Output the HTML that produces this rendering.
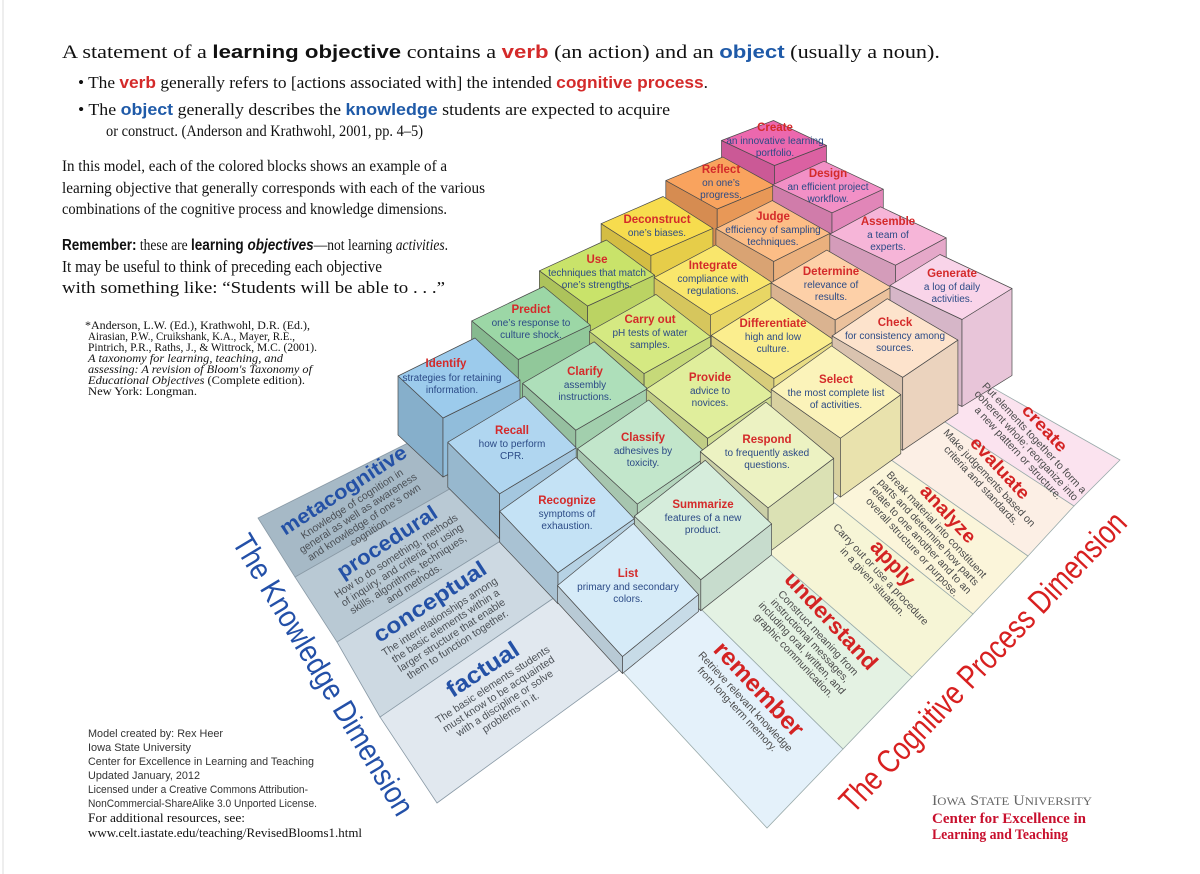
<!DOCTYPE html>
<html><head><meta charset="utf-8"><style>
html,body{margin:0;padding:0;background:#fff;}
svg{display:block;}
.ser{font-family:"Liberation Serif",serif;fill:#111;}
.sb{font-family:"Liberation Sans",sans-serif;font-weight:bold;}
.bt{font-family:"Liberation Sans Narrow","Liberation Sans",sans-serif;font-size:11.5px;font-weight:bold;fill:#d42a2a;text-anchor:middle;}
.bd{font-family:"Liberation Sans Narrow","Liberation Sans",sans-serif;font-size:10px;fill:#2b4a86;text-anchor:middle;}
.kt{font-family:"Liberation Sans",sans-serif;font-weight:bold;fill:#2451a6;text-anchor:middle;}
.kd{font-family:"Liberation Sans",sans-serif;font-size:10.5px;fill:#4a4f55;text-anchor:middle;}
.ct{font-family:"Liberation Sans",sans-serif;font-weight:bold;fill:#d42323;text-anchor:middle;}
.cd{font-family:"Liberation Sans",sans-serif;font-size:10.5px;fill:#4a4a4a;text-anchor:middle;}
.cr{font-family:"Liberation Sans",sans-serif;font-size:11px;fill:#333;}
</style></head><body>
<svg id="s" width="1200" height="874" viewBox="0 0 1200 874" xmlns="http://www.w3.org/2000/svg">
<rect width="1200" height="874" fill="#fff"/>
<line x1="3" y1="0" x2="3" y2="874" stroke="#ddd" stroke-width="1"/>
<g stroke="#8a9aa6" stroke-width="0.8">
<polygon points="437,803 380,717 558,595 622,668" fill="#e1e8ef"/>
<polygon points="380,717 337,642 507,537 558,595" fill="#cdd9e2"/>
<polygon points="337,642 295,577 460,483 507,537" fill="#b9c9d4"/>
<polygon points="295,577 258,518 420,437 460,483" fill="#a6b9c6"/>
</g>
<g stroke="#9aa" stroke-width="0.8">
<polygon points="621,670 700,608 843,749 767,828" fill="#e4f1fa"/>
<polygon points="700,608 768,552 912,677 843,749" fill="#e4f2e3"/>
<polygon points="768,552 832,501 973,614 912,677" fill="#f6f5d6"/>
<polygon points="832,501 887,457 1028,556 973,614" fill="#fbf5da"/>
<polygon points="887,457 936,416 1074,506 1028,556" fill="#fcefe5"/>
<polygon points="936,416 979,380 1120,460 1074,506" fill="#fbe3ef"/>
</g>
<g id="blocks"></g>

<g>
<text class="bt" x="775" y="131">Create</text><text class="bd" x="775" y="144">an innovative learning</text><text class="bd" x="775" y="156">portfolio.</text>
<text class="bt" x="721" y="173">Reflect</text><text class="bd" x="721" y="186">on one’s</text><text class="bd" x="721" y="198">progress.</text>
<text class="bt" x="828" y="177">Design</text><text class="bd" x="828" y="190">an efficient project</text><text class="bd" x="828" y="202">workflow.</text>
<text class="bt" x="657" y="223">Deconstruct</text><text class="bd" x="657" y="236">one’s biases.</text>
<text class="bt" x="773" y="220">Judge</text><text class="bd" x="773" y="233">efficiency of sampling</text><text class="bd" x="773" y="245">techniques.</text>
<text class="bt" x="888" y="225">Assemble</text><text class="bd" x="888" y="238">a team of</text><text class="bd" x="888" y="250">experts.</text>
<text class="bt" x="597" y="263">Use</text><text class="bd" x="597" y="276">techniques that match</text><text class="bd" x="597" y="288">one’s strengths.</text>
<text class="bt" x="713" y="269">Integrate</text><text class="bd" x="713" y="282">compliance with</text><text class="bd" x="713" y="294">regulations.</text>
<text class="bt" x="831" y="275">Determine</text><text class="bd" x="831" y="288">relevance of</text><text class="bd" x="831" y="300">results.</text>
<text class="bt" x="952" y="277">Generate</text><text class="bd" x="952" y="290">a log of daily</text><text class="bd" x="952" y="302">activities.</text>
<text class="bt" x="531" y="313">Predict</text><text class="bd" x="531" y="326">one’s response to</text><text class="bd" x="531" y="338">culture shock.</text>
<text class="bt" x="650" y="323">Carry out</text><text class="bd" x="650" y="336">pH tests of water</text><text class="bd" x="650" y="348">samples.</text>
<text class="bt" x="773" y="327">Differentiate</text><text class="bd" x="773" y="340">high and low</text><text class="bd" x="773" y="352">culture.</text>
<text class="bt" x="895" y="326">Check</text><text class="bd" x="895" y="339">for consistency among</text><text class="bd" x="895" y="351">sources.</text>
<text class="bt" x="446" y="367">Identify</text><text class="bd" x="452" y="381">strategies for retaining</text><text class="bd" x="452" y="393">information.</text>
<text class="bt" x="585" y="375">Clarify</text><text class="bd" x="585" y="388">assembly</text><text class="bd" x="585" y="400">instructions.</text>
<text class="bt" x="710" y="381">Provide</text><text class="bd" x="710" y="394">advice to</text><text class="bd" x="710" y="406">novices.</text>
<text class="bt" x="836" y="383">Select</text><text class="bd" x="836" y="396">the most complete list</text><text class="bd" x="836" y="408">of activities.</text>
<text class="bt" x="512" y="434">Recall</text><text class="bd" x="512" y="447">how to perform</text><text class="bd" x="512" y="459">CPR.</text>
<text class="bt" x="643" y="441">Classify</text><text class="bd" x="643" y="454">adhesives by</text><text class="bd" x="643" y="466">toxicity.</text>
<text class="bt" x="767" y="443">Respond</text><text class="bd" x="767" y="456">to frequently asked</text><text class="bd" x="767" y="468">questions.</text>
<text class="bt" x="567" y="504">Recognize</text><text class="bd" x="567" y="517">symptoms of</text><text class="bd" x="567" y="529">exhaustion.</text>
<text class="bt" x="703" y="508">Summarize</text><text class="bd" x="703" y="521">features of a new</text><text class="bd" x="703" y="533">product.</text>
<text class="bt" x="628" y="577">List</text><text class="bd" x="628" y="590">primary and secondary</text><text class="bd" x="628" y="602">colors.</text>
</g>

<g transform="translate(343,490) rotate(-33)"><text class="kt" font-size="20" y="7" textLength="147" lengthAdjust="spacingAndGlyphs">metacognitive</text>
<text class="kd" y="20">Knowledge of cognition in</text><text class="kd" y="31">general as well as awareness</text><text class="kd" y="42">and knowledge of one’s own</text><text class="kd" y="53">cognition.</text></g>
<g transform="translate(387,542) rotate(-33)"><text class="kt" font-size="21" y="7" textLength="115" lengthAdjust="spacingAndGlyphs">procedural</text>
<text class="kd" y="20">How to do something, methods</text><text class="kd" y="31">of inquiry, and criteria for using</text><text class="kd" y="42">skills, algorithms, techniques,</text><text class="kd" y="53">and methods.</text></g>
<g transform="translate(430,602) rotate(-33)"><text class="kt" font-size="22" y="7" textLength="130" lengthAdjust="spacingAndGlyphs">conceptual</text>
<text class="kd" y="21">The interrelationships among</text><text class="kd" y="32">the basic elements within a</text><text class="kd" y="43">larger structure that enable</text><text class="kd" y="54">them to function together.</text></g>
<g transform="translate(483,670) rotate(-33)"><text class="kt" font-size="23" y="7" textLength="82" lengthAdjust="spacingAndGlyphs">factual</text>
<text class="kd" y="21">The basic elements students</text><text class="kd" y="32">must know to be acquainted</text><text class="kd" y="43">with a discipline or solve</text><text class="kd" y="54">problems in it.</text></g>

<g transform="translate(1045,428) rotate(47)"><text class="ct" font-size="17" y="6" textLength="58" lengthAdjust="spacingAndGlyphs">create</text>
<text class="cd" y="18">Put elements together to form a</text><text class="cd" y="29">coherent whole; reorganize into</text><text class="cd" y="40">a new pattern or structure.</text></g>
<g transform="translate(1000,468) rotate(47)"><text class="ct" font-size="18" y="6" textLength="78" lengthAdjust="spacingAndGlyphs">evaluate</text>
<text class="cd" y="18">Make judgements based on</text><text class="cd" y="29">criteria and standards.</text></g>
<g transform="translate(948,514) rotate(47)"><text class="ct" font-size="19" y="6" textLength="72" lengthAdjust="spacingAndGlyphs">analyze</text>
<text class="cd" y="19">Break material into constituent</text><text class="cd" y="30">parts and determine how parts</text><text class="cd" y="41">relate to one another and to an</text><text class="cd" y="52">overall structure or purpose.</text></g>
<g transform="translate(893,563) rotate(47)"><text class="ct" font-size="21" y="7" textLength="55" lengthAdjust="spacingAndGlyphs">apply</text>
<text class="cd" y="20">Carry out or use a procedure</text><text class="cd" y="31">in a given situation.</text></g>
<g transform="translate(831,621) rotate(47)"><text class="ct" font-size="22" y="7" textLength="125" lengthAdjust="spacingAndGlyphs">understand</text>
<text class="cd" y="21">Construct meaning from</text><text class="cd" y="32">instructional messages,</text><text class="cd" y="43">including oral, written, and</text><text class="cd" y="54">graphic communication.</text></g>
<g transform="translate(759,689) rotate(47)"><text class="ct" font-size="24" y="8" textLength="120" lengthAdjust="spacingAndGlyphs">remember</text>
<text class="cd" y="22">Retrieve relevant knowledge</text><text class="cd" y="33">from long-term memory.</text></g>

<text transform="translate(323,675) rotate(59)" font-family="Liberation Sans,sans-serif" font-size="31" fill="#2350a8" text-anchor="middle" y="10" textLength="322" lengthAdjust="spacingAndGlyphs">The Knowledge Dimension</text>
<text transform="translate(983,662) rotate(-46.5)" font-family="Liberation Sans,sans-serif" font-size="33" fill="#d82020" text-anchor="middle" y="11" textLength="400" lengthAdjust="spacingAndGlyphs">The Cognitive Process Dimension</text>

<text class="ser" x="62" y="58" font-size="18.5" textLength="878" lengthAdjust="spacingAndGlyphs">A statement of a <tspan class="sb">learning objective</tspan> contains a <tspan class="sb" fill="#d42a2a">verb</tspan> (an action) and an <tspan class="sb" fill="#1f5aa8">object</tspan> (usually a noun).</text>
<text class="ser" x="78" y="88" font-size="17" textLength="630" lengthAdjust="spacingAndGlyphs">• The <tspan class="sb" fill="#d42a2a">verb</tspan> generally refers to [actions associated with] the intended <tspan class="sb" fill="#d42a2a">cognitive process</tspan>.</text>
<text class="ser" x="78" y="115" font-size="17" textLength="592" lengthAdjust="spacingAndGlyphs">• The <tspan class="sb" fill="#1f5aa8">object</tspan> generally describes the <tspan class="sb" fill="#1f5aa8">knowledge</tspan> students are expected to acquire</text>
<text class="ser" x="106" y="136" font-size="16" textLength="317" lengthAdjust="spacingAndGlyphs">or construct. (Anderson and Krathwohl, 2001, pp. 4–5)</text>
<text class="ser" x="62" y="171" font-size="16" textLength="385" lengthAdjust="spacingAndGlyphs">In this model, each of the colored blocks shows an example of a</text>
<text class="ser" x="62" y="193" font-size="16" textLength="423" lengthAdjust="spacingAndGlyphs">learning objective that generally corresponds with each of the various</text>
<text class="ser" x="62" y="214" font-size="16" textLength="385" lengthAdjust="spacingAndGlyphs">combinations of the cognitive process and knowledge dimensions.</text>
<text class="ser" x="62" y="250" font-size="16" textLength="386" lengthAdjust="spacingAndGlyphs"><tspan class="sb">Remember:</tspan> these are <tspan class="sb">learning <tspan font-style="italic">objectives</tspan></tspan>—not learning <tspan font-style="italic">activities</tspan>.</text>
<text class="ser" x="62" y="272" font-size="16.5" textLength="320" lengthAdjust="spacingAndGlyphs">It may be useful to think of preceding each objective</text>
<text class="ser" x="62" y="293" font-size="16.5" textLength="383" lengthAdjust="spacingAndGlyphs">with something like: “Students will be able to . . .”</text>

<g class="ser" font-size="11.5" fill="#222">
<text x="85" y="329" textLength="225" lengthAdjust="spacingAndGlyphs">*Anderson, L.W. (Ed.), Krathwohl, D.R. (Ed.),</text>
<text x="88" y="340" textLength="207" lengthAdjust="spacingAndGlyphs">Airasian, P.W., Cruikshank, K.A., Mayer, R.E.,</text>
<text x="88" y="351" textLength="229" lengthAdjust="spacingAndGlyphs">Pintrich, P.R., Raths, J., &amp; Wittrock, M.C. (2001).</text>
<text x="88" y="362" font-style="italic" textLength="195" lengthAdjust="spacingAndGlyphs">A taxonomy for learning, teaching, and</text>
<text x="88" y="373" font-style="italic" textLength="224" lengthAdjust="spacingAndGlyphs">assessing: A revision of Bloom's Taxonomy of</text>
<text x="88" y="384" textLength="217" lengthAdjust="spacingAndGlyphs"><tspan font-style="italic">Educational Objectives</tspan> (Complete edition).</text>
<text x="88" y="395" textLength="109" lengthAdjust="spacingAndGlyphs">New York: Longman.</text>
</g>

<g>
<text class="cr" x="88" y="737" textLength="135" lengthAdjust="spacingAndGlyphs">Model created by: Rex Heer</text>
<text class="cr" x="88" y="751" textLength="103" lengthAdjust="spacingAndGlyphs">Iowa State University</text>
<text class="cr" x="88" y="765" textLength="226" lengthAdjust="spacingAndGlyphs">Center for Excellence in Learning and Teaching</text>
<text class="cr" x="88" y="779" textLength="112" lengthAdjust="spacingAndGlyphs">Updated January, 2012</text>
<text class="cr" x="88" y="793" textLength="220" lengthAdjust="spacingAndGlyphs">Licensed under a Creative Commons Attribution-</text>
<text class="cr" x="88" y="807" textLength="229" lengthAdjust="spacingAndGlyphs">NonCommercial-ShareAlike 3.0 Unported License.</text>
<text class="ser" x="88" y="822" font-size="12.5" textLength="157" lengthAdjust="spacingAndGlyphs">For additional resources, see:</text>
<text class="ser" x="88" y="837" font-size="12.5" textLength="274" lengthAdjust="spacingAndGlyphs">www.celt.iastate.edu/teaching/RevisedBlooms1.html</text>
</g>

<text x="932" y="805" font-family="Liberation Serif,serif" font-size="15" fill="#666" textLength="160" lengthAdjust="spacingAndGlyphs">I<tspan font-size="12">OWA</tspan> S<tspan font-size="12">TATE</tspan> U<tspan font-size="12">NIVERSITY</tspan></text>
<text x="932" y="823" font-family="Liberation Serif,serif" font-size="15" font-weight="bold" fill="#c8102e" textLength="154" lengthAdjust="spacingAndGlyphs">Center for Excellence in</text>
<text x="932" y="839" font-family="Liberation Serif,serif" font-size="15" font-weight="bold" fill="#c8102e" textLength="136" lengthAdjust="spacingAndGlyphs">Learning and Teaching</text>
</svg>
<script>
(function(){
var centers=[
[[628,590],[567,515],[512,445],[459,378]],
[[703,520],[643,452],[585,386],[531,323]],
[[767,455],[710,392],[650,334],[597,273]],
[[836,392],[773,338],[713,280],[657,226]],
[[895,338],[831,285],[773,231],[720,183]],
[[951,287],[888,236],[828,187],[774,143]]];
var cols=[
["#d6ebf8","#c4e2f5","#b0d6f0","#9ccbec"],
["#d6eddc","#c2e6cb","#aedfba","#9cd7a6"],
["#ecf2c2","#e0ee9c","#d5e982","#c9e36a"],
["#fbf3ba","#fbee8e","#f9e66c","#f7dc4e"],
["#fde3cc","#fdd0a8","#fcbd86","#f9a35e"],
["#f9d4e9","#f6b5d8","#f290c6","#ec68ae"]];
var aL=[38,-31],aG=[25,-15.5],aI=[38.5,-19],aC=[26,-10];
var bL=[-32.5,-35.5],bG=[-36,-17],bI=[-22.5,-21],bC=[-26.5,-12.5];
function bil(L,G,I,C,u,v,i){return L[i]*(1-u)*(1-v)+G[i]*u*(1-v)+I[i]*(1-u)*v+C[i]*u*v;}
function dk(h,f){var r=parseInt(h.substr(1,2),16),g=parseInt(h.substr(3,2),16),b=parseInt(h.substr(5,2),16);
return "rgb("+Math.round(r*f)+","+Math.round(g*f)+","+Math.round(b*f)+")";}
var ns="http://www.w3.org/2000/svg",grp=document.getElementById("blocks");
function poly(pts,fill){var p=document.createElementNS(ns,"polygon");
p.setAttribute("points",pts.map(function(q){return q[0].toFixed(1)+","+q[1].toFixed(1);}).join(" "));
p.setAttribute("fill",fill);p.setAttribute("stroke","#4a4a4a");p.setAttribute("stroke-width","0.7");p.setAttribute("stroke-linejoin","round");grp.appendChild(p);}
for(var s=8;s>=0;s--){for(var k=3;k>=0;k--){var c=s-k;if(c<0||c>5)continue;
var u=c/5,v=k/3,C=centers[c][k];
var a=[bil(aL,aG,aI,aC,u,v,0),bil(aL,aG,aI,aC,u,v,1)],b=[bil(bL,bG,bI,bC,u,v,0),bil(bL,bG,bI,bC,u,v,1)];
var T=[C[0]+a[0]+b[0],C[1]+a[1]+b[1]],R=[C[0]+a[0]-b[0],C[1]+a[1]-b[1]],
B=[C[0]-a[0]-b[0],C[1]-a[1]-b[1]],Lf=[C[0]-a[0]+b[0],C[1]-a[1]+b[1]];
var d=17+14*(c+k);
function dn(p){return [p[0],p[1]+d];}
var col=cols[c][k];
poly([Lf,B,dn(B),dn(Lf)],dk(col,0.86));
poly([B,R,dn(R),dn(B)],dk(col,0.93));
poly([T,R,B,Lf],col);
}}
})();
</script>
</body></html>
